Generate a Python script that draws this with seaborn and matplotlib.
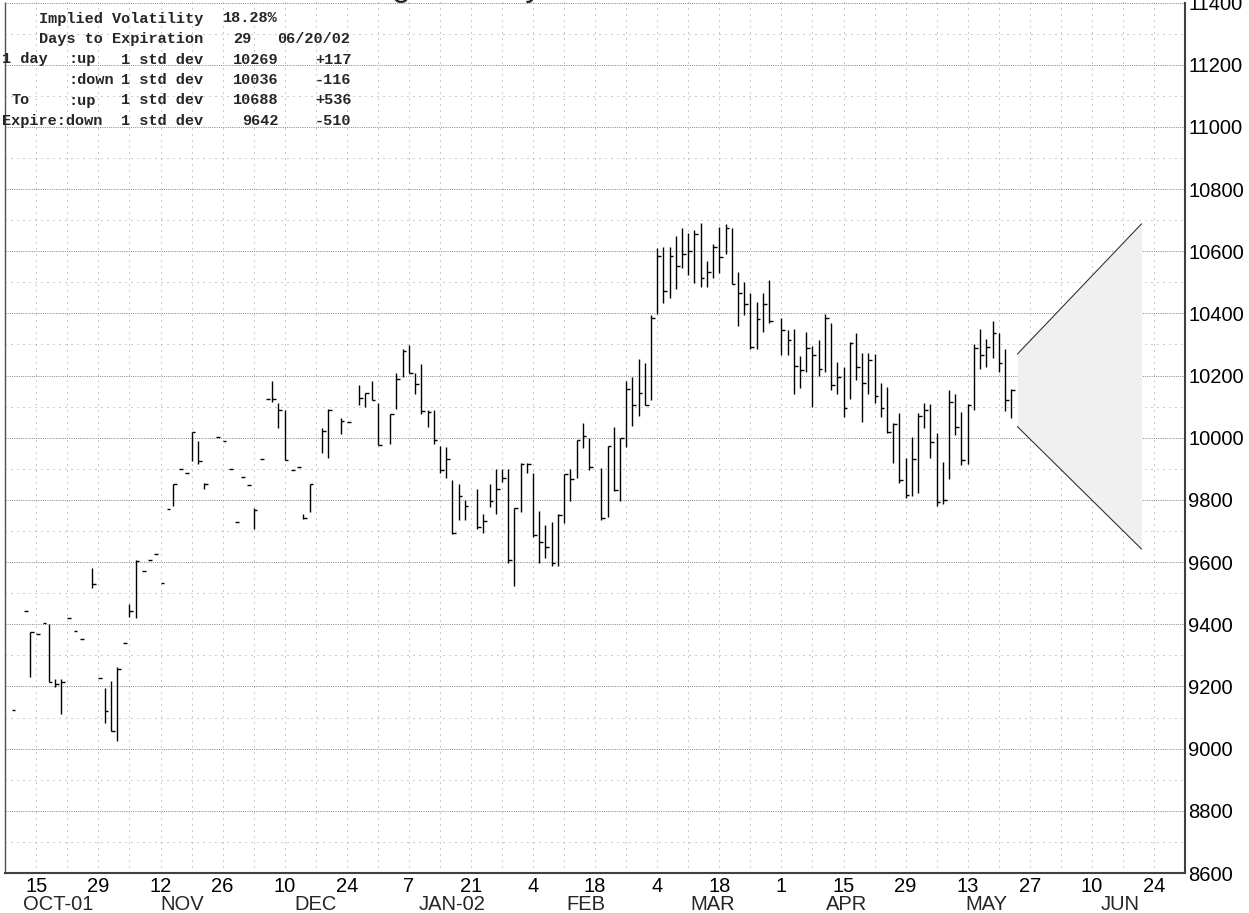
import numpy as np
import pandas as pd
import matplotlib
matplotlib.use("Agg")
import matplotlib.pyplot as plt
from matplotlib.ticker import MultipleLocator, FixedLocator
import seaborn as sns

nan = np.nan

# weekdays from 2001-10-08 to 2002-05-22 (nan = no bar / holiday)
first_day = "2001-10-08"
last_day = "2002-05-22"
expiry_day = "2002-06-20"

highs = [
    nan, nan, nan, nan, 9375, nan, nan, 9401, 9225, 9225,
    nan, nan, nan, nan, 9581, nan, 9195, 9219, 9264, nan,
    9465, 9607, nan, nan, nan, nan, nan, 9851, nan, nan,
    10020, 9990, 9854, nan, nan, nan, nan, nan, nan, nan,
    9774, nan, nan, 10184, 10111, 10090, nan, nan, 9755, 9851,
    nan, 10031, 10092, nan, 10063, nan, nan, 10170, 10143, 10184,
    10111, nan, 10077, 10208, 10286, 10299, 10208, 10238, 10090, 10090,
    9972, 9970, 9865, 9851, 9800, nan, 9835, 9755, 9852, 9899,
    9899, 9899, 9774, 9918, 9920, 9888, 9763, 9720, 9729, 9755,
    9884, 9899, 9993, 10049, 9999, nan, 9902, 9974, 10034, 9999,
    10181, 10194, 10254, 10240, 10395, 10610, 10613, 10613, 10649, 10674,
    10658, 10668, 10692, 10567, 10623, 10677, 10688, 10674, 10534, 10502,
    10467, 10438, 10465, 10508, nan, 10385, 10345, 10349, 10263, 10341,
    10295, 10313, 10398, 10368, 10243, 10229, 10309, 10336, 10272, 10272,
    10270, 10176, 10163, 10049, 10079, 9934, 10004, 10079, 10113, 10109,
    10015, 9922, 10152, 10140, 10084, 10109, 10302, 10349, 10317, 10374,
    10336, 10285, 10157,
]
lows = [
    nan, nan, nan, nan, 9232, nan, nan, 9213, 9197, 9112,
    nan, nan, nan, nan, 9516, nan, 9082, 9058, 9026, nan,
    9425, 9420, nan, nan, nan, nan, nan, 9779, nan, nan,
    9926, 9915, 9835, nan, nan, nan, nan, nan, nan, nan,
    9706, nan, nan, 10114, 10031, 9927, nan, nan, 9738, 9760,
    nan, 9950, 9934, nan, 10013, nan, nan, 10106, 10098, 10120,
    9977, nan, 9980, 10092, 10194, 10208, 10140, 10076, 10036, 9979,
    9886, 9871, 9691, 9734, 9734, nan, 9706, 9695, 9777, 9755,
    9859, 9597, 9522, 9760, 9886, 9682, 9597, 9613, 9588, 9586,
    9727, 9795, 9870, 9967, 9897, nan, 9736, 9745, 9830, 9798,
    9970, 10038, 10070, 10106, 10120, 10397, 10433, 10449, 10478, 10545,
    10524, 10497, 10484, 10486, 10515, 10529, 10590, 10494, 10360, 10395,
    10286, 10285, 10341, 10368, nan, 10267, 10266, 10141, 10159, 10213,
    10100, 10199, 10213, 10154, 10141, 10066, 10124, 10186, 10050, 10140,
    10111, 10066, 10015, 9920, 9856, 9806, 9813, 9822, 10031, 9934,
    9781, 9787, 9867, 10009, 9913, 9916, 10090, 10221, 10226, 10256,
    10210, 10087, 10063,
]
closes = [
    nan, 9123, nan, 9443, 9375, 9369, 9404, 9213, 9209, 9215,
    9420, 9377, 9353, nan, 9530, 9228, 9122, 9058, 9256, 9341,
    9444, 9605, 9570, 9607, 9627, 9532, 9770, 9851, 9899, 9888,
    10020, 9926, 9852, nan, 10001, 9991, 9899, 9730, 9874, 9848,
    9766, 9933, 10126, 10126, 10088, 9927, 9897, 9905, 9741, 9851,
    nan, 10023, 10088, nan, 10053, 10050, nan, 10127, 10143, 10122,
    9977, nan, 10077, 10188, 10280, 10208, 10172, 10086, 10084, 9993,
    9897, 9931, 9693, 9814, 9779, nan, 9714, 9733, 9798, 9835,
    9872, 9607, 9774, 9916, 9916, 9688, 9666, 9650, 9597, 9752,
    9884, 9868, 9993, 10006, 9907, nan, 9743, 9974, 9832, 9999,
    10157, 10106, 10145, 10106, 10385, 10583, 10472, 10583, 10554, 10591,
    10602, 10656, 10513, 10534, 10615, 10580, 10674, 10494, 10467, 10431,
    10293, 10382, 10431, 10374, nan, 10345, 10313, 10232, 10218, 10290,
    10267, 10222, 10385, 10170, 10195, 10095, 10306, 10229, 10176, 10250,
    10135, 10095, 10018, 10044, 9865, 9816, 9932, 10070, 10090, 9985,
    9792, 9800, 10114, 10034, 9929, 10106, 10290, 10267, 10293, 10336,
    10240, 10122, 10152,
]

# 1 std dev ranges from the implied volatility
one_day_up, one_day_down = 10269, 10036
expire_up, expire_down = 10688, 9642

info_lines = [
    [("Implied Volatility", 39), ("18.28%", 223)],
    [("Days to Expiration", 39), ("29", 233), ("06/20/02", 277)],
    [("1 day", 2), (":up", 68), ("1 std dev", 121), ("10269", 233), ("+117", 315)],
    [(":down", 68), ("1 std dev", 121), ("10036", 233), ("-116", 315)],
    [("To", 12), (":up", 68), ("1 std dev", 121), ("10688", 233), ("+536", 315)],
    [("Expire:down", 2), ("1 std dev", 121), ("9642", 242), ("-510", 315)],
]

month_names = ["OCT-01", "NOV", "DEC", "JAN-02", "FEB", "MAR", "APR", "MAY", "JUN"]

sns.set_style("white")
plt.rcParams['font.family'] = ['Liberation Sans', 'DejaVu Sans']

W, H = 1249, 913
fig = plt.figure(figsize=(W / 100, H / 100), dpi=100)
ax = fig.add_axes([5.3 / W, 40 / H, (1185 - 5.3) / W, (873 - 2.5) / H])

dates = pd.bdate_range(first_day, last_day)
df = pd.DataFrame({"date": dates, "high": highs, "low": lows, "close": closes})
df["x"] = np.busday_count(np.datetime64(first_day), df["date"].values.astype("datetime64[D]"))

rng = df.dropna(subset=["high"])
ax.vlines(rng["x"], rng["low"], rng["high"], color="black", lw=1.0, zorder=3)
cl = df.dropna(subset=["close"])
ax.hlines(cl["close"], cl["x"], cl["x"] + 0.6, color="black", lw=1.0, zorder=3)

# projection cone to expiration
x0 = np.busday_count(np.datetime64(first_day), np.datetime64(last_day)) + 1
x1 = np.busday_count(np.datetime64(first_day), np.datetime64(expiry_day))
ax.fill_between([x0, x1], [one_day_down, expire_down], [one_day_up, expire_up],
                color="#f0f0f0", lw=0, zorder=2)
sns.lineplot(x=[x0, x1], y=[one_day_up, expire_up], color="#333333", lw=0.8, ax=ax, zorder=3)
sns.lineplot(x=[x0, x1], y=[one_day_down, expire_down], color="#333333", lw=0.8, ax=ax, zorder=3)

ax.set_xlim(0, 190)
ax.set_ylim(8600, 11400)

# axis ticks: Mondays every two weeks, weekly grid
all_days = pd.bdate_range(first_day, periods=191)
mondays = [i for i, d in enumerate(all_days) if d.weekday() == 0]
major_x = mondays[1::2]
ax.xaxis.set_major_locator(FixedLocator(major_x))
ax.xaxis.set_minor_locator(FixedLocator(mondays))
ax.set_xticklabels([str(all_days[i].day) for i in major_x])
ax.yaxis.set_major_locator(MultipleLocator(200))
ax.yaxis.set_minor_locator(MultipleLocator(100))
ax.yaxis.tick_right()
ax.tick_params(axis="both", which="both", length=0, labelsize=14.5, colors="black")
ax.tick_params(axis="x", pad=3)
ax.tick_params(axis="y", pad=2.5)

ax.set_axisbelow(True)
ax.grid(which="major", axis="y", color="#8a8a8a", lw=0.72, linestyle=(0, (1, 1.2)))
ax.grid(which="minor", axis="y", color="#9a9a9a", lw=0.72, linestyle=(0, (1, 5)))
ax.grid(which="both", axis="x", color="#9a9a9a", lw=0.72, linestyle=(0, (1, 5)))

ax.spines["top"].set_visible(False)
ax.spines["left"].set_color("#505050")
ax.spines["left"].set_linewidth(1.0)
for s in ["bottom", "right"]:
    ax.spines[s].set_color("#404040")
    ax.spines[s].set_linewidth(1.5)

# month names centred under the visible weekdays of each month
months = pd.Series(range(190), index=all_days[:190]).groupby(all_days[:190].to_period("M")).mean()
for name, xc in zip(month_names, months.values):
    ax.annotate(name, xy=(xc, 0), xycoords=("data", "axes fraction"), xytext=(0, -15.8),
                textcoords="offset points", ha="center", va="top", fontsize=14.5)

# volatility info block
for i, line in enumerate(info_lines):
    yy = 18.5 + 20.5 * i
    for txt, xx in line:
        fig.text(xx / W, 1 - yy / H, txt, ha="left", va="center", fontsize=11,
                 family=["Liberation Mono", "DejaVu Sans Mono"], fontweight="bold")

# title sits mostly above the frame, only descenders show
fig.text(542 / W, 1 + 4 / H, "Dow Jones Industrials Trading Volatility", ha="right",
         va="baseline", fontsize=24)

fig.savefig("out.png", dpi=100)
